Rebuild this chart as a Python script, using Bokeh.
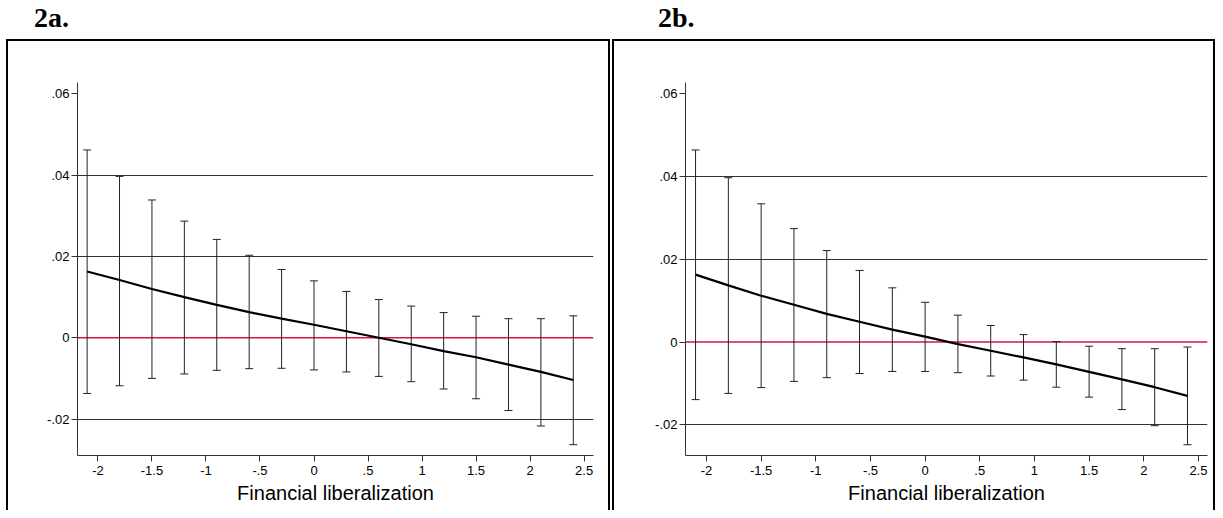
from bokeh.plotting import figure
from bokeh.models import (Whisker, TeeHead, ColumnDataSource, Span, FixedTicker,
                          CustomJSTickFormatter, Range1d, Div)
from bokeh.layouts import row, column
from bokeh.embed import file_html
from bokeh.resources import INLINE

# ---------------- data ----------------
x_vals = [-2.1, -1.8, -1.5, -1.2, -0.9, -0.6, -0.3, 0.0, 0.3, 0.6, 0.9, 1.2, 1.5, 1.8, 2.1, 2.4]

a_est = [0.0163, 0.0142, 0.0120, 0.0100, 0.0081, 0.0063, 0.0047, 0.0032,
         0.0016, 0.0000, -0.0016, -0.0033, -0.0048, -0.0066, -0.0084, -0.0104]
a_hi = [0.0462, 0.0397, 0.0339, 0.0287, 0.0242, 0.0203, 0.0168, 0.0140,
        0.0114, 0.0094, 0.0078, 0.0062, 0.0053, 0.0047, 0.0047, 0.0054]
a_lo = [-0.0137, -0.0118, -0.0100, -0.0089, -0.0080, -0.0076, -0.0075, -0.0079,
        -0.0084, -0.0095, -0.0108, -0.0126, -0.0150, -0.0179, -0.0217, -0.0263]

b_est = [0.0163, 0.0137, 0.0112, 0.0090, 0.0068, 0.0049, 0.0030, 0.0013,
         -0.0005, -0.0021, -0.0037, -0.0054, -0.0072, -0.0090, -0.0109, -0.0130]
b_hi = [0.0464, 0.0397, 0.0334, 0.0274, 0.0221, 0.0173, 0.0131, 0.0096,
        0.0065, 0.0040, 0.0018, 0.0001, -0.0010, -0.0016, -0.0016, -0.0012]
b_lo = [-0.0139, -0.0124, -0.0110, -0.0095, -0.0086, -0.0076, -0.0071, -0.0071,
        -0.0074, -0.0082, -0.0092, -0.0109, -0.0133, -0.0163, -0.0202, -0.0248]

x_ticks = [-2, -1.5, -1, -0.5, 0, 0.5, 1, 1.5, 2, 2.5]
y_ticks = [-0.02, 0, 0.02, 0.04, 0.06]
grid_ticks = [-0.02, 0.02, 0.04]
titles = ["2a.", "2b."]
x_label = "Financial liberalization"

FMT = CustomJSTickFormatter(code="""
const s = (Math.round(tick*10000)/10000).toString();
return s.replace(/^(-?)0\\./, '$1.');
""")


def make_panel(est, hi, lo, x_range, y_range, width, mb_left, mb_right, extra_styles):
    p = figure(width=width, height=471, output_backend="svg", toolbar_location=None,
               x_range=Range1d(*x_range), y_range=Range1d(*y_range),
               min_border_left=mb_left, min_border_right=mb_right,
               min_border_top=41, min_border_bottom=57)
    p.outline_line_color = None
    p.background_fill_color = "white"
    p.border_fill_color = "white"
    st = {"border-left": "2px solid black", "border-top": "2px solid black",
          "border-right": "2px solid black"}
    st.update(extra_styles)
    p.styles = st

    p.xgrid.visible = False
    p.ygrid.ticker = FixedTicker(ticks=grid_ticks)
    p.ygrid.grid_line_color = "#333333"
    p.ygrid.grid_line_width = 1

    zero = Span(location=0, dimension="width", line_color="#d4173f",
                line_width=1.6, level="underlay")
    p.add_layout(zero)

    src = ColumnDataSource(dict(x=x_vals, est=est, hi=hi, lo=lo))
    w = Whisker(base="x", upper="hi", lower="lo", source=src, dimension="height",
                line_color="#222222", line_width=1,
                upper_head=TeeHead(size=8, line_color="#222222", line_width=1),
                lower_head=TeeHead(size=8, line_color="#222222", line_width=1))
    p.add_layout(w)
    p.line("x", "est", source=src, line_color="black", line_width=2.2)

    for ax in (p.xaxis[0], p.yaxis[0]):
        ax.axis_line_color = "#333333"
        ax.axis_line_width = 1
        ax.major_tick_line_color = "#333333"
        ax.major_tick_out = 6
        ax.major_tick_in = 0
        ax.minor_tick_line_color = None
        ax.major_label_text_font = "Liberation Sans"
        ax.major_label_text_font_size = "13px"
        ax.major_label_text_color = "black"
        ax.formatter = FMT

    p.xaxis[0].ticker = FixedTicker(ticks=x_ticks)
    p.yaxis[0].ticker = FixedTicker(ticks=y_ticks)
    p.xaxis[0].major_label_standoff = 4
    p.yaxis[0].major_label_standoff = 2
    p.xaxis[0].axis_label = x_label
    p.xaxis[0].axis_label_text_font = "Liberation Sans"
    p.xaxis[0].axis_label_text_font_size = "20px"
    p.xaxis[0].axis_label_text_font_style = "normal"
    p.xaxis[0].axis_label_text_color = "black"
    p.xaxis[0].axis_label_standoff = 4
    return p


pa = make_panel(a_est, a_hi, a_lo, (-2.189, 2.587), (-0.02896, 0.0628), 604, 69, 19,
                {"margin-left": "6px"})
pb = make_panel(b_est, b_hi, b_lo, (-2.192, 2.583), (-0.0274, 0.0627), 603, 71, 10, {})

title_html = (
    '<div style="position:relative;width:1207px;height:29px;">'
    '<span style="position:absolute;left:29px;top:-1px;font-family:\'Liberation Serif\';'
    'font-weight:bold;font-size:28px;line-height:28px;color:black;">%s</span>'
    '<span style="position:absolute;left:653px;top:-1px;font-family:\'Liberation Serif\';'
    'font-weight:bold;font-size:28px;line-height:28px;color:black;">%s</span>'
    '</div>' % (titles[0], titles[1])
)
head = Div(text=title_html, width=1207, height=29, styles={"overflow": "visible"})

layout = column(head, row(pa, pb, spacing=2), spacing=0)

open("out.html", "w").write(file_html(layout, INLINE))
